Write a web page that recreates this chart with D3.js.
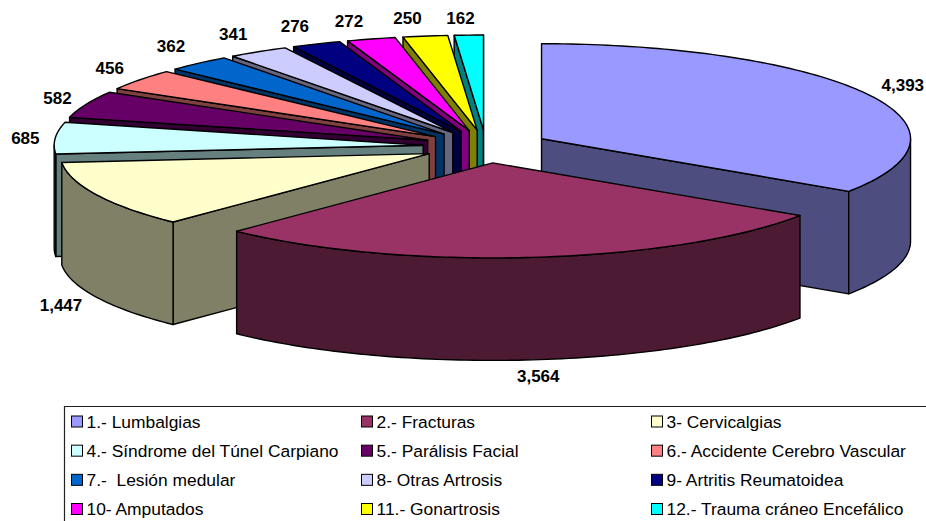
<!DOCTYPE html>
<html>
<head>
<meta charset="utf-8">
<script src="https://cdn.jsdelivr.net/npm/d3@7/dist/d3.min.js"></script>
<style>
  html, body { margin: 0; padding: 0; background: #fff; }
  svg { display: block; }
  text { font-family: "Liberation Sans", Arial, sans-serif; fill: #000; }
</style>
</head>
<body>
<svg id="chart" width="926" height="521"></svg>
<script>
// Cases per diagnosis
const categories = [
  "1.- Lumbalgias", "2.- Fracturas", "3- Cervicalgias",
  "4.- Síndrome del Túnel Carpiano", "5.- Parálisis Facial", "6.- Accidente Cerebro Vascular",
  "7.-  Lesión medular", "8- Otras Artrosis", "9- Artritis Reumatoidea",
  "10- Amputados", "11.- Gonartrosis", "12.- Trauma cráneo Encefálico"
];
const values = [4393, 3564, 1447, 685, 582, 456, 362, 341, 276, 272, 250, 162];
const topColors = ["#9999FF", "#993366", "#FFFFCC", "#CCFFFF", "#660066", "#FF8080",
                   "#0066CC", "#CCCCFF", "#000080", "#FF00FF", "#FFFF00", "#00FFFF"];
const sideColors = ["#4D4D80", "#4D1A33", "#808066", "#668080", "#330033", "#804040",
                    "#003366", "#666680", "#000040", "#800080", "#808000", "#008080"];

// Hand placement of the value labels around the computed rim anchor
const labelShiftX = [6, 2, -5, 4, 3, -3, -5, -7, -8, -13, -13, -7];
const labelShiftY = [2, -2, 1, 3, 3, 2, -1, 1, 2, 3, 3, 4];

// Tilted-pie projection: unit circle to screen offsets
const sx = d3.scaleLinear().domain([-1, 1]).range([-369, 369]);
const sy = d3.scaleLinear().domain([-1, 1]).range([95, -95]);
const explodeX = d3.scaleLinear().domain([-1, 1]).range([486 - 63, 486 + 63]);
const explodeY = d3.scaleLinear().domain([-1, 1]).range([146.5 + 16.5, 146.5 - 16.5]);
const depth = 102.5;

const arcs = d3.pie().value(d => d).sort(null).startAngle(0).endAngle(2 * Math.PI)(values);

const svg = d3.select("#chart");
const outline = d3.line().curve(d3.curveLinear);
const fmt = d3.format(",");

function apexOf(a) {
  const m = (a.startAngle + a.endAngle) / 2;
  return [explodeX(Math.sin(m)), explodeY(Math.cos(m))];
}
function rim(apex, angle, dz = 0) {
  return [apex[0] + sx(Math.sin(angle)), apex[1] + sy(Math.cos(angle)) + dz];
}
function rimRun(apex, a0, a1, dz = 0) {
  const n = Math.max(2, Math.ceil((a1 - a0) / 0.02));
  return d3.range(n + 1).map(i => rim(apex, a0 + (a1 - a0) * i / n, dz));
}

function face(pts, fill) {
  svg.append("path")
    .attr("d", outline(pts) + "Z")
    .attr("fill", fill)
    .attr("stroke", "#000")
    .attr("stroke-width", 1.4)
    .attr("stroke-linejoin", "round");
}

function drawSlice(i) {
  const a = arcs[i];
  const apex = apexOf(a);
  const low = [apex[0], apex[1] + depth];
  // A cut face shows only when it turns toward the viewer
  const cut = ang => face([apex, rim(apex, ang), rim(apex, ang, depth), low], sideColors[i]);
  if (Math.sin(a.startAngle) < 0) cut(a.startAngle);
  if (Math.sin(a.endAngle) > 0) cut(a.endAngle);
  const w0 = Math.max(a.startAngle, Math.PI / 2);
  const w1 = Math.min(a.endAngle, 3 * Math.PI / 2);
  if (w1 > w0) {
    face([...rimRun(apex, w0, w1), ...rimRun(apex, w0, w1, depth).reverse()], sideColors[i]);
  }
  face([apex, ...rimRun(apex, a.startAngle, a.endAngle)], topColors[i]);
}

// Painter's order: rear wedges first, the large front wedges last
[11, 10, 9, 8, 7, 6, 5, 4, 3, 0, 2, 1].forEach(drawSlice);

// Value labels sit just outside each wedge's rim
arcs.forEach((a, i) => {
  const m = (a.startAngle + a.endAngle) / 2;
  const apex = apexOf(a);
  const front = Math.cos(m) < -0.3 ? depth : 0;
  const x = apex[0] + sx(Math.sin(m)) + Math.sin(m) * 34 + labelShiftX[i];
  const y = apex[1] + sy(Math.cos(m)) - Math.cos(m) * 20 + front + labelShiftY[i];
  svg.append("text")
    .attr("x", x).attr("y", y)
    .attr("text-anchor", "middle").attr("dominant-baseline", "middle")
    .attr("font-size", 17).attr("font-weight", "bold")
    .text(fmt(values[i]));
});

// Legend, a 3-column grid running off the right and lower edges
svg.append("path").attr("d", "M926,406.5H64.5V521")
  .attr("fill", "none").attr("stroke", "#222").attr("stroke-width", 1.2);
const colX = d3.scalePoint().domain([0, 1, 2]).range([71.5, 651.5]);
const rowY = d3.scalePoint().domain([0, 1, 2, 3]).range([421.5, 509]);
categories.forEach((c, i) => {
  const x = colX(i % 3), y = rowY(Math.floor(i / 3));
  svg.append("rect")
    .attr("x", x).attr("y", y - 5.5).attr("width", 11).attr("height", 11)
    .attr("fill", topColors[i]).attr("stroke", "#000").attr("stroke-width", 1);
  svg.append("text")
    .attr("x", x + 15).attr("y", y + 6)
    .attr("font-size", 17.4)
    .style("white-space", "pre")
    .text(c);
});
</script>
</body>
</html>
